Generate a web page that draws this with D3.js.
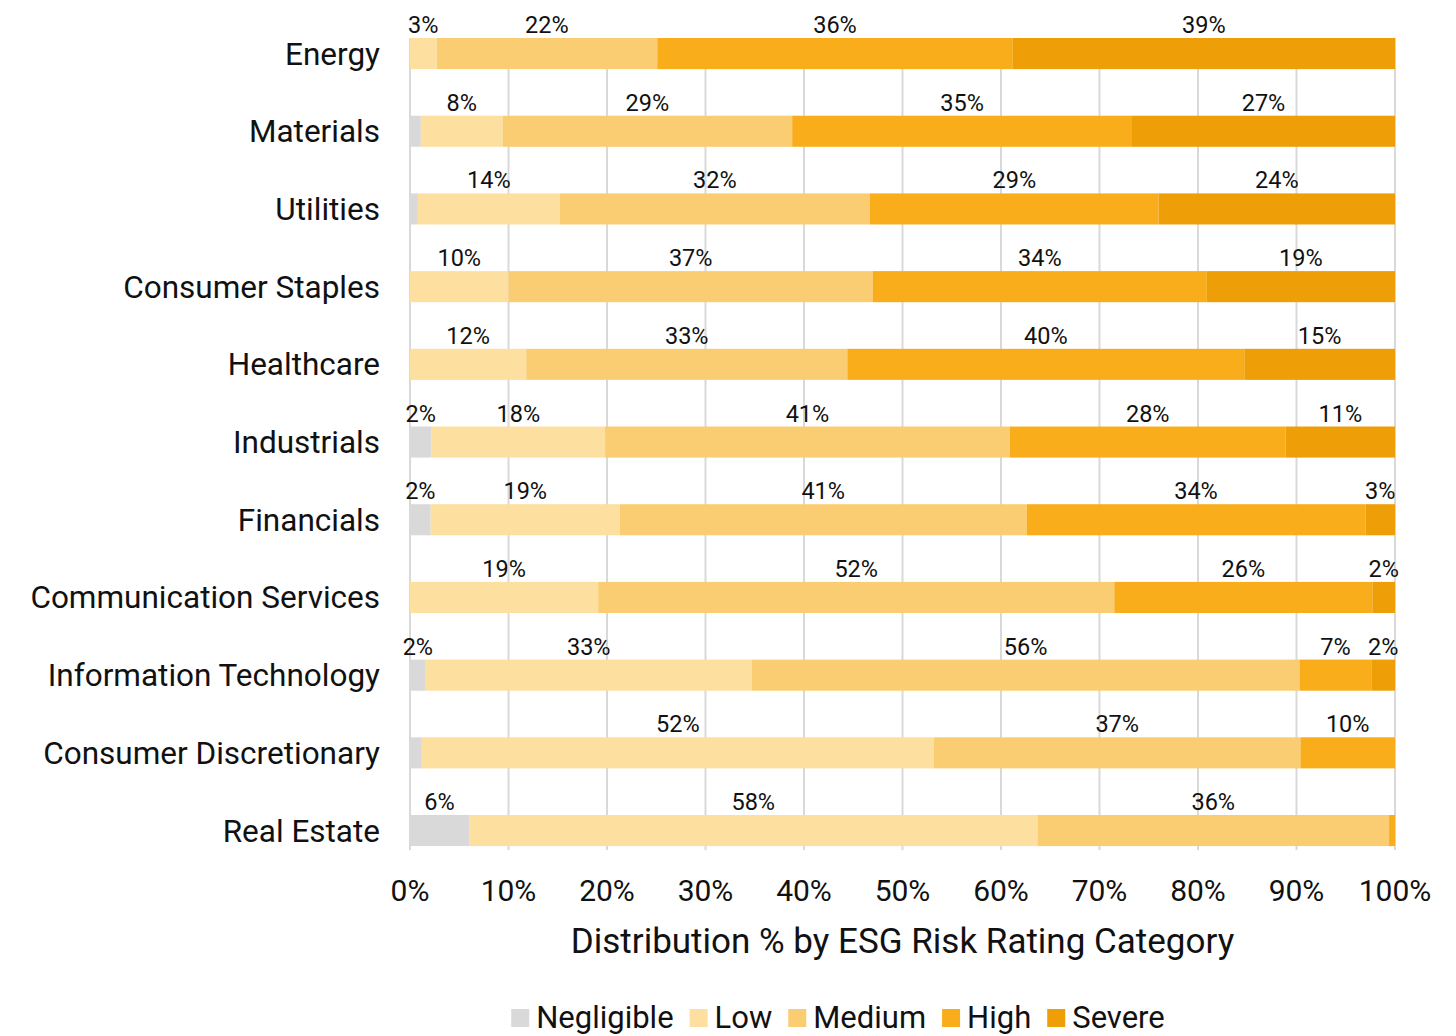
<!DOCTYPE html>
<html>
<head>
<meta charset="utf-8">
<script src="https://cdn.jsdelivr.net/npm/d3@7"></script>
<style>
  body { margin: 0; background: #fff; }
  svg text { font-family: Roboto, "Noto Sans", sans-serif; fill: #111; }
</style>
</head>
<body>
<div id="wrapper"></div>
<script>
// sectors, top to bottom
const categories = ["Energy", "Materials", "Utilities", "Consumer Staples", "Healthcare",
                    "Industrials", "Financials", "Communication Services",
                    "Information Technology", "Consumer Discretionary", "Real Estate"];

const riskLevels = ["Negligible", "Low", "Medium", "High", "Severe"];

// % share per sector
const negligible = [0,    1.1,  0.8,  0,    0,    2.2,  2.1,  0,    1.6,  1.2,  6.0];
const low        = [2.7,  8.3,  14.4, 10.0, 11.8, 17.6, 19.2, 19.1, 33.1, 52.0, 57.7];
const medium     = [22.4, 29.4, 31.5, 37.0, 32.6, 41.1, 41.3, 52.4, 55.6, 37.2, 35.7];
const high       = [36.1, 34.5, 29.3, 33.9, 40.3, 28.0, 34.4, 26.2, 7.3,  9.6,  0.6];
const severe     = [38.8, 26.7, 24.0, 19.1, 15.3, 11.1, 3.0,  2.3,  2.4,  0,    0];

const xTicks = [0, 10, 20, 30, 40, 50, 60, 70, 80, 90, 100];

const colors = ["#d9d9d9", "#fddfa0", "#facd72", "#f9ad1b", "#ee9e06"];

let rows = categories.map((c, i) => ({
    category: c,
    Negligible: negligible[i],
    Low: low[i],
    Medium: medium[i],
    High: high[i],
    Severe: severe[i]
}));

let width = 1456, height = 1036;

let svg = d3.select("#wrapper")
            .append("svg")
            .attr("width", width)
            .attr("height", height);

let xScale = d3.scaleLinear()
                .domain([0, 100])
                .range([410, 1395]);

let yScale = d3.scaleBand()
                .domain(categories)
                .range([14.7, 869.4])
                .paddingInner(0.6)
                .paddingOuter(0.3);

let colorScale = d3.scaleOrdinal()
                    .domain(riskLevels)
                    .range(colors);

let gridTop = yScale(categories[0]);
let gridBottom = 850;

// vertical gridlines
svg.append("g")
    .selectAll("line")
    .data(xTicks)
    .enter()
    .append("line")
    .attr("x1", d => xScale(d))
    .attr("x2", d => xScale(d))
    .attr("y1", gridTop)
    .attr("y2", gridBottom)
    .attr("stroke", "#d9d9d9")
    .attr("stroke-width", 2);

// tick labels
svg.append("g")
    .selectAll("text")
    .data(xTicks)
    .enter()
    .append("text")
    .attr("x", d => xScale(d))
    .attr("y", 901)
    .attr("text-anchor", "middle")
    .style("font-size", "30px")
    .text(d => d + "%");

svg.append("text")
    .attr("x", (xScale(0) + xScale(100)) / 2)
    .attr("y", 953)
    .attr("text-anchor", "middle")
    .style("font-size", "35px")
    .text("Distribution % by ESG Risk Rating Category");

// category labels
svg.append("g")
    .selectAll("text")
    .data(categories)
    .enter()
    .append("text")
    .attr("x", 380)
    .attr("y", d => yScale(d) + yScale.bandwidth() / 2)
    .attr("dy", "0.35em")
    .attr("text-anchor", "end")
    .style("font-size", "31.5px")
    .text(d => d);

let stacked = d3.stack().keys(riskLevels)(rows);

let layers = svg.append("g")
                .selectAll("g")
                .data(stacked)
                .enter()
                .append("g")
                .attr("fill", d => colorScale(d.key));

layers.selectAll("rect")
    .data(d => d)
    .enter()
    .append("rect")
    .attr("x", d => xScale(d[0]))
    .attr("y", d => yScale(d.data.category))
    .attr("width", d => xScale(d[1]) - xScale(d[0]))
    .attr("height", yScale.bandwidth());

// value labels above each segment
layers.selectAll("text")
    .data(d => d.filter(s => s[1] - s[0] >= 1.5))
    .enter()
    .append("text")
    .attr("x", d => xScale((d[0] + d[1]) / 2))
    .attr("y", d => yScale(d.data.category) - 5)
    .attr("text-anchor", "middle")
    .style("font-size", "23.5px")
    .text(d => d3.format(".0f")(d[1] - d[0]) + "%");

// legend
let legend = svg.append("g");
let cursor = 0;
riskLevels.forEach((k, i) => {
    let item = legend.append("g").attr("transform", `translate(${cursor}, 0)`);
    item.append("rect")
        .attr("x", 0)
        .attr("y", -19)
        .attr("width", 18)
        .attr("height", 18)
        .attr("fill", colorScale(k));
    let t = item.append("text")
        .attr("x", 25)
        .attr("y", 0)
        .style("font-size", "31px")
        .text(k);
    cursor += 25 + t.node().getComputedTextLength() + 16;
});
let legendWidth = cursor - 16;
legend.attr("transform", `translate(${838 - legendWidth / 2}, 1028)`);
</script>
</body>
</html>
